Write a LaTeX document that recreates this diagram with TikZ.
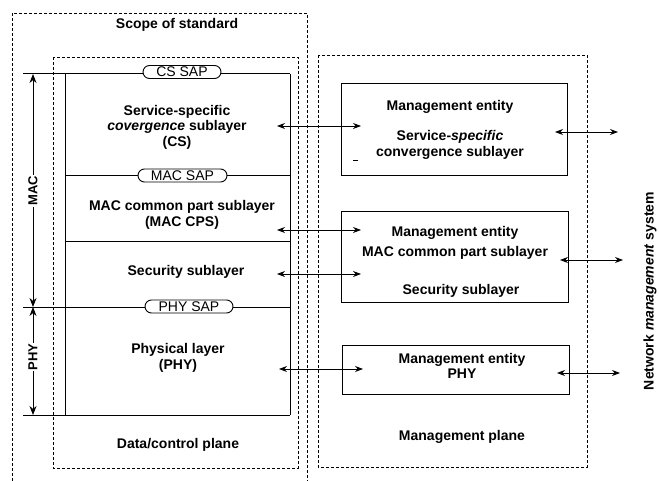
\documentclass[tikz,border=0pt]{standalone}
\usepackage{fontspec}
\setmainfont{Liberation Sans}
\usetikzlibrary{arrows.meta}
\begin{document}
\begin{tikzpicture}[x=1pt,y=-1pt,
  every node/.style={font=\fontsize{14}{15.5}\selectfont\bfseries, inner sep=0pt, align=center},
  dashbox/.style={dash pattern=on 3pt off 2pt, line width=0.7pt},
  solid/.style={line width=1pt},
  pill/.style={draw, line width=0.9pt, fill=white, rounded corners=6.5pt, minimum height=13pt, font=\fontsize{14}{15}\selectfont\mdseries},
  mbox/.style={draw, line width=1pt},
  dbl/.style={line width=0.9pt, {Stealth[length=8pt,width=6pt]}-{Stealth[length=8pt,width=6pt]}},
  dim/.style={line width=0.9pt, {Stealth[length=9pt,width=7pt]}-{Stealth[length=9pt,width=7pt]}}
]
\useasboundingbox (0,0) rectangle (659,481);
\fill[white] (0,0) rectangle (659,481);

% scope of standard
\draw[dashbox] (12,481) -- (12,13) -- (307,13) -- (307,481);
\node (scope) at (177,25) {Scope of standard};

% data/control plane
\draw[dashbox] (53,57) rectangle (298,468);
\node (dcp) at (178,445) {Data/control plane};

% management plane
\draw[dashbox] (318,55) rectangle (587,467);
\node (mp) at (462,437) {Management plane};

% protocol stack
\draw[solid] (65,74) -- (65,415);
\draw[solid] (290,74) -- (290,415);
\draw[solid] (23,74) -- (290,74);
\draw[solid] (65,176) -- (290,176);
\draw[solid] (65,242) -- (290,242);
\draw[solid] (23,307) -- (290,307);
\draw[solid] (23,415) -- (290,415);

\node[pill, minimum width=78pt] (cssap) at (182,72) {CS SAP};
\node[pill, minimum width=89pt] (macsap) at (182.5,175.5) {MAC SAP};
\node[pill, minimum width=88pt] (physap) at (189,306.5) {PHY SAP};

\node (cs) at (177,127) {Service-specific\\\textit{covergence} sublayer\\(CS)};
\node (cps) at (182,215) {MAC common part sublayer\\(MAC CPS)};
\node (sec) at (186,272) {Security sublayer};
\node (phy) at (178,358) {Physical layer\\(PHY)};

% MAC / PHY dimension arrows
\coordinate (macT) at (33,74);
\coordinate (macB) at (33,307);
\coordinate (phyB) at (33,415);
\draw[dim] (macT) -- (macB);
\draw[dim] (macB) -- (phyB);
\node[fill=white, rotate=90, font=\fontsize{13}{14}\selectfont\bfseries, inner sep=1pt] (maclbl) at (33,191) {MAC};
\node[fill=white, rotate=90, font=\fontsize{13}{14}\selectfont\bfseries, inner sep=1pt] (phylbl) at (33,357) {PHY};

% management entities
\node[mbox, minimum width=226pt, minimum height=92pt] (me1) at (454,130) {};
\node (me1a) at (450,107) {Management entity};
\node (me1b) at (450,145) {Service-\textit{specific}\\convergence sublayer};
\draw[line width=0.9pt] (353,160) -- (358,160);

\node[mbox, minimum width=227pt, minimum height=91pt] (me2) at (455,257.5) {};
\node (me2a) at (455,233) {Management entity};
\node (me2b) at (455,253) {MAC common part sublayer};
\node (me2c) at (461,291) {Security sublayer};

\node[mbox, minimum width=227pt, minimum height=49pt] (me3) at (455.5,369.5) {};
\node (me3a) at (462,366) {Management entity\\PHY};

% data plane <-> management plane
\coordinate (a1l) at (277,126); \coordinate (a1r) at (361,126);
\coordinate (a2l) at (277,230); \coordinate (a2r) at (361,230);
\coordinate (a3l) at (277,274); \coordinate (a3r) at (361,274);
\coordinate (a4l) at (279,369); \coordinate (a4r) at (363,369);
\draw[dbl] (a1l) -- (a1r);
\draw[dbl] (a2l) -- (a2r);
\draw[dbl] (a3l) -- (a3r);
\draw[dbl] (a4l) -- (a4r);

% management plane <-> NMS
\coordinate (b1l) at (555,132); \coordinate (b1r) at (618,132);
\coordinate (b2l) at (560,260); \coordinate (b2r) at (623,260);
\coordinate (b3l) at (557,373); \coordinate (b3r) at (620,373);
\draw[dbl] (b1l) -- (b1r);
\draw[dbl] (b2l) -- (b2r);
\draw[dbl] (b3l) -- (b3r);

\node[rotate=90] (nms) at (650,291) {Network \textit{management} system};
\end{tikzpicture}
\end{document}
